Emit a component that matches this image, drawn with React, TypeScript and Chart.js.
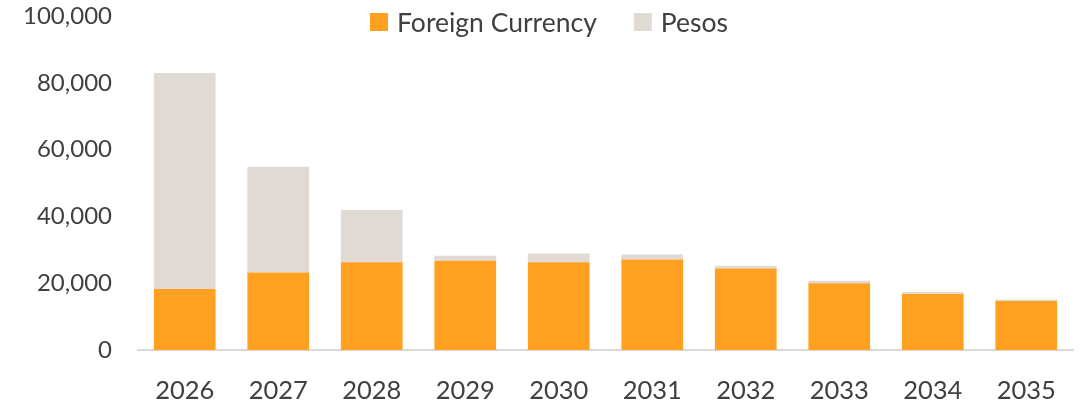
import React, { useEffect, useRef } from "react";
import { Chart, registerables } from "chart.js";

Chart.register(...registerables);

const years = ["2026", "2027", "2028", "2029", "2030", "2031", "2032", "2033", "2034", "2035"];
const foreignCurrency = [18300, 23200, 26300, 26700, 26300, 27100, 24400, 20000, 16800, 14700];
const pesos = [64600, 31700, 15600, 1500, 2600, 1500, 800, 700, 600, 400];
const yTicks = [0, 20000, 40000, 60000, 80000, 100000];

const FONT = "Lato, 'Open Sans', sans-serif";
const TEXT = "#404040";

const customLegend = {
  id: "customLegend",
  afterDraw(chart: any) {
    const ctx = chart.ctx;
    const ds = chart.data.datasets;
    ctx.save();
    ctx.font = `26.5px ${FONT}`;
    ctx.textBaseline = "middle";
    ctx.textAlign = "left";
    const box = 18;
    const gap = 9;
    const itemGap = 37;
    const widths = ds.map((d: any) => box + gap + ctx.measureText(d.label).width);
    const total = widths.reduce((a: number, b: number) => a + b, 0) + itemGap * (ds.length - 1);
    let x = 549 - total / 2;
    const cy = 22;
    ds.forEach((d: any, i: number) => {
      ctx.fillStyle = d.backgroundColor;
      ctx.fillRect(x, cy - box / 2, box, box);
      ctx.fillStyle = TEXT;
      ctx.fillText(d.label, x + box + gap, cy + 1);
      x += widths[i] + itemGap;
    });
    ctx.restore();
  },
};

export default function App() {
  const ref = useRef<HTMLCanvasElement | null>(null);
  useEffect(() => {
    if (!ref.current) return;
    const chart = new Chart(ref.current, {
      type: "bar",
      data: {
        labels: years,
        datasets: [
          {
            label: "Foreign Currency",
            data: foreignCurrency,
            backgroundColor: "#FFA020",
            barPercentage: 0.66,
            categoryPercentage: 1,
          },
          {
            label: "Pesos",
            data: pesos,
            backgroundColor: "#E0DAD5",
            barPercentage: 0.66,
            categoryPercentage: 1,
          },
        ],
      },
      options: {
        animation: false,
        responsive: true,
        maintainAspectRatio: false,
        layout: { padding: { top: 16, left: 22, right: 14, bottom: 0 } },
        plugins: {
          legend: { display: false },
          tooltip: { enabled: false },
        },
        scales: {
          x: {
            stacked: true,
            grid: { display: false, drawTicks: false },
            border: { display: true, color: "#D9D9D9", width: 2 },
            ticks: {
              color: TEXT,
              font: { family: FONT, size: 25.5 },
              padding: 25,
              maxRotation: 0,
            },
            afterFit: (s: any) => {
              s.height = 56;
              s.paddingLeft = 0;
              s.paddingRight = 0;
            },
          },
          y: {
            stacked: true,
            min: 0,
            max: 100000,
            afterBuildTicks: (axis: any) => {
              axis.ticks = yTicks.map((v) => ({ value: v }));
            },
            grid: { display: false, drawTicks: false },
            border: { display: false },
            ticks: {
              color: TEXT,
              font: { family: FONT, size: 24 },
              padding: 26,
              callback: (v: any) => Number(v).toLocaleString("en-US"),
            },
            afterFit: (s: any) => {
              s.width = 116;
              s.paddingTop = 0;
              s.paddingBottom = 0;
            },
          },
        },
      },
      plugins: [customLegend],
    });
    return () => chart.destroy();
  }, []);
  return (
    <div style={{ position: "fixed", left: 0, top: 0, width: 1087, height: 406, background: "#fff" }}>
      <canvas ref={ref} />
    </div>
  );
}
